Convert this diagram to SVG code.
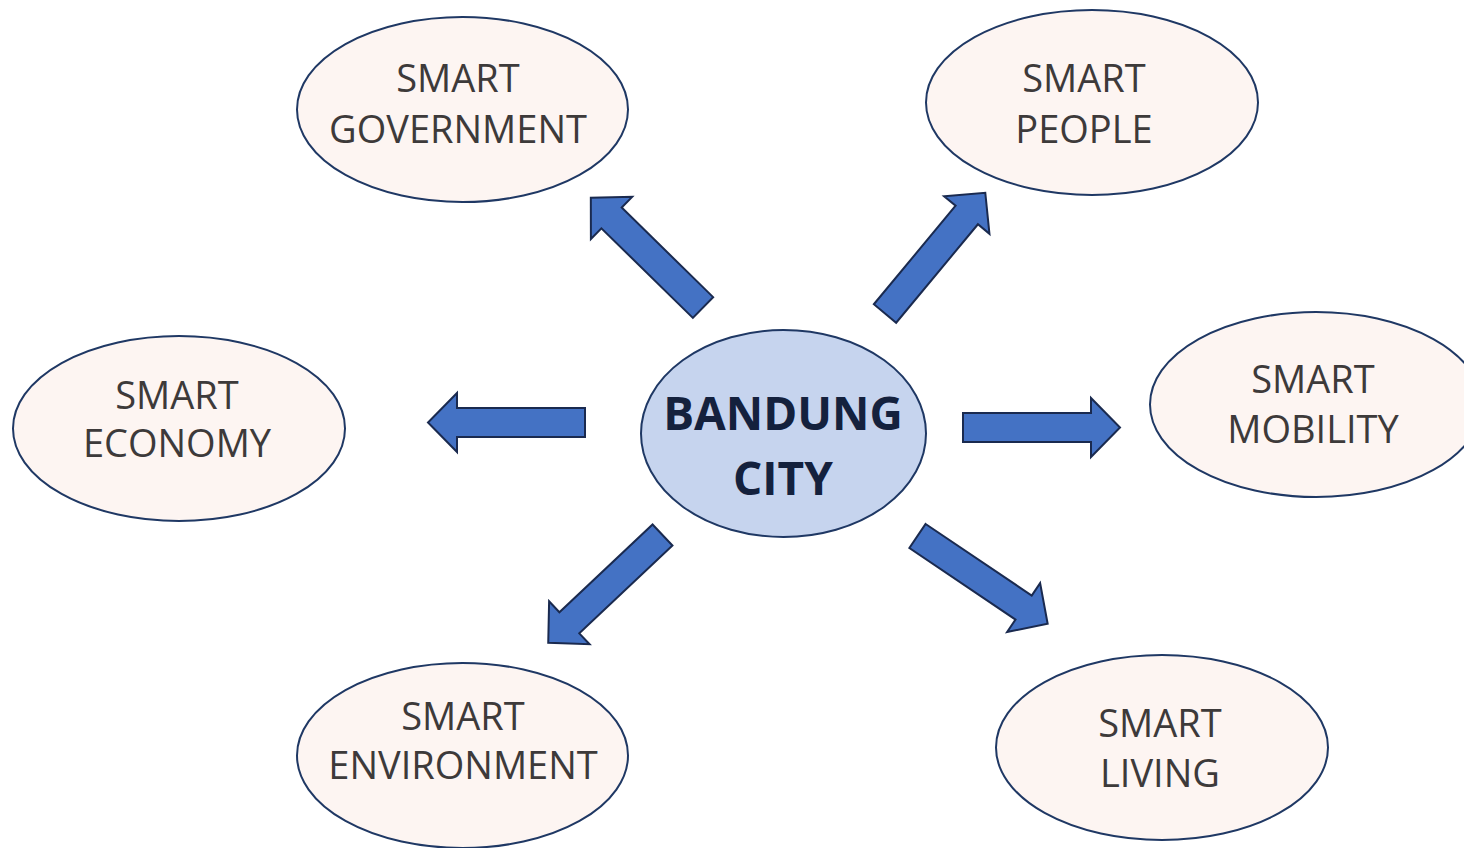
<svg xmlns="http://www.w3.org/2000/svg" width="1464" height="848" viewBox="0 0 1464 848">
  <style>
    .node { fill: #fdf5f2; stroke: #1f3864; stroke-width: 2; }
    .hub { fill: #c6d4ee; stroke: #1f3864; stroke-width: 2; }
    .lbl { font-family: "Open Sans", "Liberation Sans", sans-serif; font-size: 38px; fill: #3d3a3a; text-anchor: middle; }
    .hubl { font-family: "Open Sans", "Liberation Sans", sans-serif; font-size: 46px; font-weight: bold; fill: #14213d; text-anchor: middle; }
    .arrow { fill: #4472c4; stroke: #1a2a4f; stroke-width: 2; stroke-linejoin: miter; }
  </style>
  <defs>
    <polygon id="blk" points="0,-14.5 128,-14.5 128,-29.5 157,0 128,29.5 128,14.5 0,14.5"/>
  </defs>
  <rect width="1464" height="848" fill="#ffffff"/>

  <g id="connectors">
    <use href="#blk" class="arrow" transform="translate(703,307.5) rotate(-135.6)"/>
    <use href="#blk" class="arrow" transform="translate(885,313.5) rotate(-50.3)"/>
    <use href="#blk" class="arrow" transform="translate(585,422.5) rotate(180)"/>
    <use href="#blk" class="arrow" transform="translate(963,427.5)"/>
    <use href="#blk" class="arrow" transform="translate(662.5,535) rotate(136.7)"/>
    <use href="#blk" class="arrow" transform="translate(917.5,536) rotate(34)"/>
  </g>

  <g id="smart-government">
    <ellipse class="node" cx="462.5" cy="109.5" rx="165.5" ry="92.5"/>
    <text class="lbl" x="458" y="92">SMART</text>
    <text class="lbl" x="458" y="143">GOVERNMENT</text>
  </g>
  <g id="smart-people">
    <ellipse class="node" cx="1092" cy="102.5" rx="166" ry="92.5"/>
    <text class="lbl" x="1084" y="92">SMART</text>
    <text class="lbl" x="1084" y="143">PEOPLE</text>
  </g>
  <g id="smart-economy">
    <ellipse class="node" cx="179" cy="428.5" rx="166" ry="92.5"/>
    <text class="lbl" x="177" y="409">SMART</text>
    <text class="lbl" x="177" y="457">ECONOMY</text>
  </g>
  <g id="smart-mobility">
    <ellipse class="node" cx="1316" cy="404.5" rx="166" ry="92.5"/>
    <text class="lbl" x="1313" y="393">SMART</text>
    <text class="lbl" x="1313" y="443">MOBILITY</text>
  </g>
  <g id="smart-environment">
    <ellipse class="node" cx="462.5" cy="755.5" rx="165.5" ry="92.5"/>
    <text class="lbl" x="463" y="730">SMART</text>
    <text class="lbl" x="463" y="779">ENVIRONMENT</text>
  </g>
  <g id="smart-living">
    <ellipse class="node" cx="1162" cy="747.5" rx="166" ry="92.5"/>
    <text class="lbl" x="1160" y="737">SMART</text>
    <text class="lbl" x="1160" y="787">LIVING</text>
  </g>
  <g id="bandung-city">
    <ellipse class="hub" cx="783.5" cy="433.5" rx="142.5" ry="103.5"/>
    <text class="hubl" x="783" y="430">BANDUNG</text>
    <text class="hubl" x="783" y="495">CITY</text>
  </g>
</svg>
